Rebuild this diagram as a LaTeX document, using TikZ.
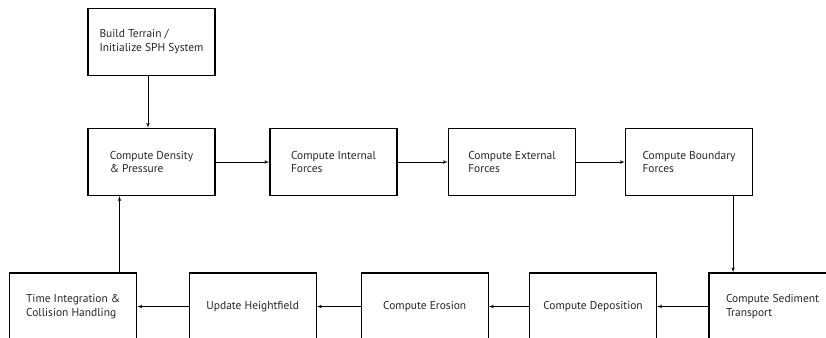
\documentclass[tikz,border=0pt]{standalone}
\usepackage{fontspec}
\setmainfont{PT Sans}
\usetikzlibrary{shapes,arrows}

\begin{document}
\begin{tikzpicture}[x=1bp, y=-1bp, auto]
        % Styles
        \tikzstyle{block} = [rectangle, draw, line width=1.2bp, align=left, font=\fontsize{11.5}{14}\selectfont, minimum width=127bp, minimum height=67bp, inner sep=0pt, text=black!85]
        \tikzstyle{line} = [draw, line width=0.7bp, -latex']

        % Canvas
        \useasboundingbox (0,0) rectangle (826,337);
        \clip (0,0) rectangle (826,337);

        % Nodes
        \node [block] (init) at (151.5,42) {Build Terrain /\\Initialize SPH System};
        \node [block, below of=init, node distance=120bp] (dens) {Compute Density\\\& Pressure};
        \node [block, right of=dens, node distance=182bp] (intf) {Compute Internal\\Forces};
        \node [block, right of=intf, node distance=178.5bp] (extf) {Compute External\\Forces};
        \node [block, right of=extf, node distance=177bp] (bndf) {Compute Boundary\\Forces};
        \node [block, below of=bndf, node distance=144.5bp, xshift=83.5bp] (sedt) {Compute Sediment\\Transport};
        \node [block, left of=sedt, node distance=179.5bp] (depo) {Compute Deposition};
        \node [block, left of=depo, node distance=168.3bp] (eros) {Compute Erosion};
        \node [block, left of=eros, node distance=172bp] (hgtf) {Update Heightfield};
        \node [block, left of=hgtf, node distance=179.5bp] (tint) {Time Integration \&\\Collision Handling};

        % Edges
        \path [line] ([xshift=-3.5bp]init.south) -- ([xshift=-3.5bp]dens.north);
        \path [line] (dens) -- (intf);
        \path [line] (intf) -- (extf);
        \path [line] (extf) -- (bndf);
        \path [line] ([xshift=-20bp]bndf.south east) -- ([xshift=-20bp]bndf.south east |- sedt.north);
        \path [line] (sedt) -- (depo);
        \path [line] (depo) -- (eros);
        \path [line] (eros) -- (hgtf);
        \path [line] (hgtf) -- (tint);
        \path [line] ([xshift=-32bp]dens.south |- tint.north) -- ([xshift=-32bp]dens.south); % Loop feedback
    \end{tikzpicture}
\end{document}
